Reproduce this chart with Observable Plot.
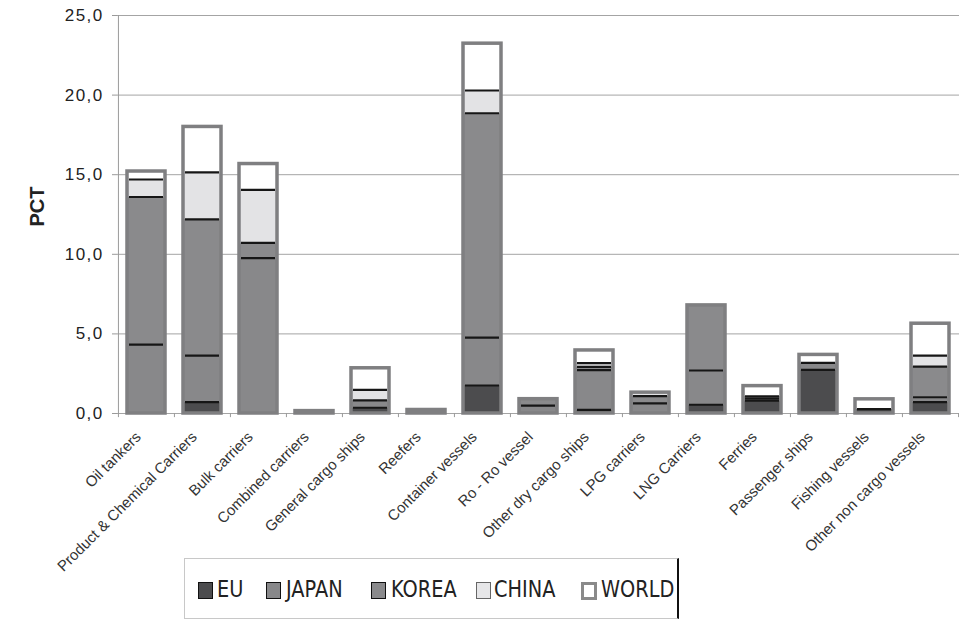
<!DOCTYPE html>
<html>
<head>
<meta charset="utf-8">
<script src="https://cdn.jsdelivr.net/npm/d3@7"></script>
<script src="https://cdn.jsdelivr.net/npm/@observablehq/plot@0.6"></script>
<style>
  html, body { margin: 0; padding: 0; background: #fff; }
  #wrap { position: relative; width: 959px; height: 620px; overflow: hidden; }
  #chart svg { display: block; }
  #chart g[aria-label="y-axis tick label"] text { letter-spacing: 1.4px; }
  #legend {
    position: absolute; left: 184px; top: 558px; width: 492px; height: 59px;
    border: 1px solid #c8c8c8; border-right: 2px solid #111; background: #fff;
  }
  .sw { position: absolute; top: 23px; width: 13px; height: 15px; box-sizing: content-box; }
  .lab {
    position: absolute; top: 15px; font-family: "DejaVu Sans", sans-serif; font-size: 23px;
    color: #222; white-space: nowrap; transform: scaleX(0.84); transform-origin: left center;
    line-height: 30px;
  }
</style>
</head>
<body>
<div id="wrap">
  <div id="chart"></div>
  <div id="legend"></div>
</div>
<script>
// Ship types on the horizontal axis
const categories = [
  "Oil tankers", "Product & Chemical Carriers", "Bulk carriers", "Combined carriers",
  "General cargo ships", "Reefers", "Container vessels", "Ro - Ro vessel",
  "Other dry cargo ships", "LPG carriers", "LNG Carriers", "Ferries",
  "Passenger ships", "Fishing vessels", "Other non cargo vessels"
];

// Share (PCT) per builder region, stacked in this order
const seriesNames = ["EU", "JAPAN", "KOREA", "CHINA", "WORLD"];
const eu    = [0,    0.71, 0,    0,    0.36, 0,    1.76,  0,    0.23, 0,    0.55, 0.80, 2.74, 0.27, 0.72];
const japan = [4.33, 2.93, 9.76, 0,    0.46, 0,    3.01,  0.50, 2.50, 0.63, 2.15, 0.14, 0.44, 0,    0.30];
const korea = [9.27, 8.56, 0.96, 0.15, 0,    0.22, 14.09, 0.40, 0.20, 0.46, 4.09, 0.13, 0,    0,    1.93];
const china = [1.10, 2.95, 3.33, 0,    0.67, 0,    1.43,  0,    0.23, 0.22, 0,    0,    0,    0,    0.69];
const world = [0.50, 2.85, 1.62, 0,    1.35, 0,    2.94,  0,    0.80, 0,    0,    0.65, 0.50, 0.62, 2.00];

const yTicks = [0, 5, 10, 15, 20, 25];

const seriesValues = [eu, japan, korea, china, world];
const fills = ["#4c4c4e", "#88888a", "#8a8a8c", "#e3e3e5", "#ffffff"];

// Long table for the stacked bars
const rows = [];
categories.forEach((c, i) => {
  seriesNames.forEach((s, k) => rows.push({category: c, series: s, value: seriesValues[k][i]}));
});

// Totals for the outer outline of each bar
const totals = categories.map((c, i) => ({
  category: c,
  total: seriesValues.reduce((a, arr) => a + arr[i], 0)
}));

// Dark divider lines on top of each inner segment
const dividers = [];
categories.forEach((c, i) => {
  let cum = 0;
  const total = totals[i].total;
  for (let k = 0; k < 4; k++) {
    const v = seriesValues[k][i];
    cum += v;
    if (v > 0 && cum < total - 1e-9) dividers.push({category: c, y: cum});
  }
});

const W = 959, ML = 117, MR = 0, MT = 15, H = 620, MB = H - 413;
const step = (W - ML - MR) / categories.length;
const fmt = d => d.toFixed(1).replace(".", ",");

const chart = Plot.plot({
  width: W,
  height: H,
  marginLeft: ML,
  marginRight: MR,
  marginTop: MT,
  marginBottom: MB,
  style: {fontFamily: "'Liberation Sans', Arial, sans-serif", background: "#fff", color: "#222"},
  x: {domain: categories, paddingInner: 0.33, paddingOuter: 0.165, axis: null},
  y: {domain: [0, 25], axis: null},
  color: {domain: seriesNames, range: fills},
  marks: [
    Plot.gridY(yTicks, {stroke: "#a4a4a4", strokeOpacity: 1, strokeWidth: 1}),
    Plot.barY(rows, {x: "category", y: "value", fill: "series"}),
    Plot.barY(totals, {x: "category", y: "total", fill: "none", stroke: "#7f7f81", strokeWidth: 3.5}),
    Plot.tickY(dividers, {x: "category", y: "y", stroke: "#161616", strokeWidth: 2.2, insetLeft: 2, insetRight: 2}),
    // vertical axis line and its ticks
    Plot.ruleX([categories[0]], {dx: -step / 2, y1: 0, y2: 25, stroke: "#9a9a9a"}),
    Plot.axisY({ticks: yTicks, tickFormat: fmt, tickSize: 5, tickPadding: 9, fontSize: 17,
                stroke: "#9a9a9a", color: "#222", label: null}),
    // category separators below the base line
    Plot.ruleX(categories, {dx: -step / 2, y1: 0, y2: -0.26, stroke: "#9a9a9a"}),
    Plot.ruleX([categories[categories.length - 1]], {dx: step / 2, y1: 0, y2: -0.26, stroke: "#9a9a9a"}),
    Plot.axisX({tickSize: 0, tickPadding: 16, tickRotate: -45, fontSize: 15, color: "#333",
                label: null, dx: -8, dy: 5}),
    Plot.text(["PCT"], {frameAnchor: "left", dx: -80, dy: 12, rotate: -90, fontSize: 20,
                        fontWeight: "bold", fill: "#222", text: d => d})
  ]
});
document.getElementById("chart").append(chart);

// Legend below the chart
const legendPos = [
  {sw: 13, tx: 32}, {sw: 81, tx: 101}, {sw: 186, tx: 206}, {sw: 291, tx: 309}, {sw: 396, tx: 416}
];
const swatchStyle = [
  "background:#4c4c4e;border:1.5px solid #111;",
  "background:#88888a;border:1.5px solid #111;",
  "background:#8a8a8c;border:1.5px solid #111;",
  "background:#e6e6e8;border:1px solid #666;",
  "background:#fff;border:3px solid #8a8a8a;width:10px;height:12px;"
];
const legend = document.getElementById("legend");
seriesNames.forEach((s, k) => {
  const sw = document.createElement("div");
  sw.className = "sw";
  sw.style.cssText = swatchStyle[k];
  sw.style.left = legendPos[k].sw + "px";
  legend.append(sw);
  const lab = document.createElement("div");
  lab.className = "lab";
  lab.style.left = legendPos[k].tx + "px";
  lab.textContent = s;
  legend.append(lab);
});
</script>
</body>
</html>
